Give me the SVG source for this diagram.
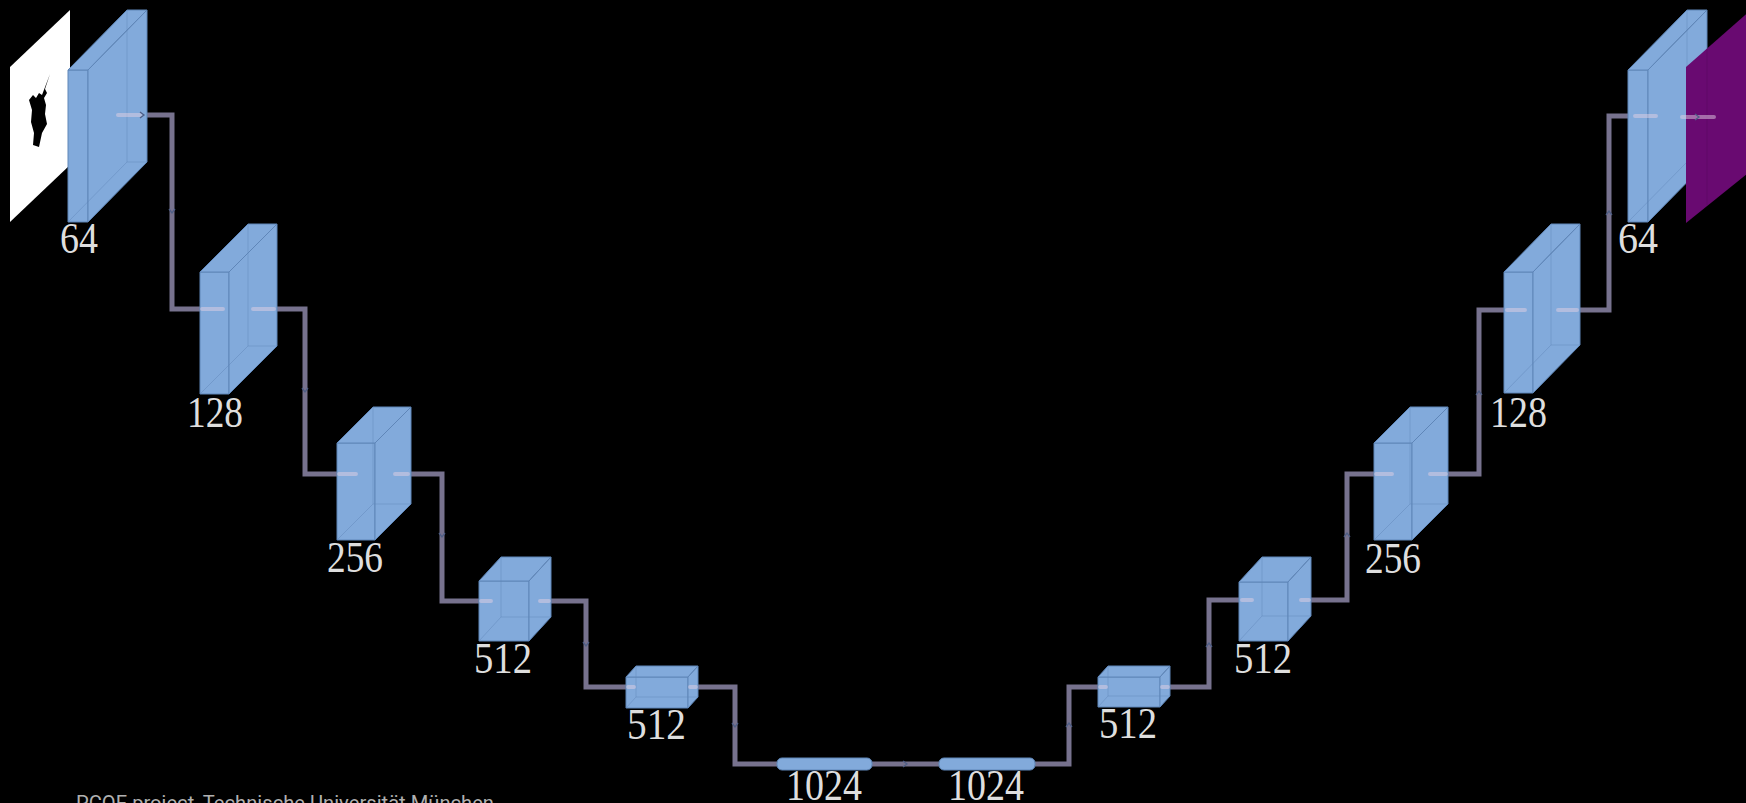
<svg xmlns="http://www.w3.org/2000/svg" width="1746" height="803" viewBox="0 0 1746 803">
  <style>
    .face { fill: #82aadb; stroke: #5f86b8; stroke-width: 1; stroke-linejoin: round; }
    .hid { fill: none; stroke: #5f86b8; stroke-width: 1; opacity: 0.45; }
    .wire { fill: none; stroke: #77728e; stroke-width: 5; stroke-linejoin: miter; }
    .pass { fill: none; stroke: #e2d0e4; stroke-width: 4; stroke-linecap: round; opacity: 0.5; }
    .tick { fill: none; stroke: #4f5f86; stroke-width: 1.3; }
    .lbl { font-family: "Liberation Serif", "DejaVu Serif", serif; font-size: 44px; fill: #dedede; }
    .note { font-family: Roboto, "Liberation Sans", sans-serif; font-size: 20px; fill: #b0b0b0; }
  </style>

  <rect x="0" y="0" width="1746" height="803" fill="#000"/>

  <!-- input image -->
  <g id="input">
    <polygon points="10,67 70,10 70,165 10,222" fill="#ffffff"/>
    <path d="M50,74 L45,89 L47,93 L44,98 L46,105 L45,114 L47,124 L42,133 L39,147 L33,145 L34,133 L31,122 L32,110 L29,100 L33,95 L36,98 L39,93 L42,95 Z" fill="#000"/>
  </g>

  <!-- connectors -->
  <g id="connectors">
    <path class="wire" d="M147,115 H172 V309 H200"/>
    <path class="wire" d="M277,309 H305 V474 H337"/>
    <path class="wire" d="M411,474 H442 V601 H479"/>
    <path class="wire" d="M551,601 H586 V687 H626"/>
    <path class="wire" d="M698,687 H735 V764 H777"/>
    <path class="wire" d="M872,764 H939"/>
    <path class="wire" d="M1035,764 H1069 V687 H1098"/>
    <path class="wire" d="M1170,687 H1209 V600 H1239"/>
    <path class="wire" d="M1311,600 H1347 V474 H1374"/>
    <path class="wire" d="M1448,474 H1479 V310 H1504"/>
    <path class="wire" d="M1580,310 H1609 V116 H1628"/>
    <!-- direction ticks -->
    <path class="tick" d="M169,209 L172,213 L175,209 M302,388 L305,392 L308,388 M439,533 L442,537 L445,533 M583,642 L586,646 L589,642 M732,723 L735,727 L738,723"/>
    <path class="tick" d="M903,761 L907,764 L903,767"/>
    <path class="tick" d="M1066,727 L1069,723 L1072,727 M1206,647 L1209,643 L1212,647 M1344,537 L1347,533 L1350,537 M1476,395 L1479,391 L1482,395 M1606,215 L1609,211 L1612,215"/>
  </g>

  <!-- encoder -->
  <g id="enc64">
    <rect class="face" x="68" y="70" width="20" height="152"/>
    <polygon class="face" points="68,70 88,70 147,10 127,10"/>
    <polygon class="face" points="88,70 147,10 147,162 88,222"/>
    <path class="hid" d="M127,10 V162 H147 M68,222 L127,162"/>
    <text class="lbl" x="60" y="253" textLength="38" lengthAdjust="spacingAndGlyphs">64</text>
  </g>
  <g id="enc128">
    <rect class="face" x="200" y="272" width="29" height="122"/>
    <polygon class="face" points="200,272 229,272 277,224 248,224"/>
    <polygon class="face" points="229,272 277,224 277,346 229,394"/>
    <path class="hid" d="M248,224 V346 H277 M200,394 L248,346"/>
    <text class="lbl" x="187" y="427" textLength="56" lengthAdjust="spacingAndGlyphs">128</text>
  </g>
  <g id="enc256">
    <rect class="face" x="337" y="443" width="38" height="97"/>
    <polygon class="face" points="337,443 375,443 411,407 373,407"/>
    <polygon class="face" points="375,443 411,407 411,504 375,540"/>
    <path class="hid" d="M373,407 V504 H411 M337,540 L373,504"/>
    <text class="lbl" x="327" y="572" textLength="56" lengthAdjust="spacingAndGlyphs">256</text>
  </g>
  <g id="enc512a">
    <rect class="face" x="479" y="581" width="50" height="60"/>
    <polygon class="face" points="479,581 529,581 551,557 501,557"/>
    <polygon class="face" points="529,581 551,557 551,617 529,641"/>
    <path class="hid" d="M501,557 V617 H551 M479,641 L501,617"/>
    <text class="lbl" x="474" y="673" textLength="58" lengthAdjust="spacingAndGlyphs">512</text>
  </g>
  <g id="enc512b">
    <rect class="face" x="626" y="677" width="62" height="31"/>
    <polygon class="face" points="626,677 688,677 698,666 636,666"/>
    <polygon class="face" points="688,677 698,666 698,697 688,708"/>
    <path class="hid" d="M636,666 V697 H698 M626,708 L636,697"/>
    <text class="lbl" x="627" y="739" textLength="59" lengthAdjust="spacingAndGlyphs">512</text>
  </g>

  <!-- bottleneck -->
  <g id="bott1">
    <rect class="face" x="777" y="758" width="95" height="12" rx="5"/>
    <text class="lbl" x="786" y="800" textLength="76" lengthAdjust="spacingAndGlyphs">1024</text>
  </g>
  <g id="bott2">
    <rect class="face" x="939" y="758" width="96" height="12" rx="5"/>
    <text class="lbl" x="948" y="800" textLength="76" lengthAdjust="spacingAndGlyphs">1024</text>
  </g>

  <!-- decoder -->
  <g id="dec512b">
    <rect class="face" x="1098" y="677" width="62" height="30"/>
    <polygon class="face" points="1098,677 1160,677 1170,666 1108,666"/>
    <polygon class="face" points="1160,677 1170,666 1170,696 1160,707"/>
    <path class="hid" d="M1108,666 V696 H1170 M1098,707 L1108,696"/>
    <text class="lbl" x="1099" y="738" textLength="58" lengthAdjust="spacingAndGlyphs">512</text>
  </g>
  <g id="dec512a">
    <rect class="face" x="1239" y="582" width="49" height="59"/>
    <polygon class="face" points="1239,582 1288,582 1311,557 1262,557"/>
    <polygon class="face" points="1288,582 1311,557 1311,616 1288,641"/>
    <path class="hid" d="M1262,557 V616 H1311 M1239,641 L1262,616"/>
    <text class="lbl" x="1234" y="673" textLength="58" lengthAdjust="spacingAndGlyphs">512</text>
  </g>
  <g id="dec256">
    <rect class="face" x="1374" y="443" width="38" height="97"/>
    <polygon class="face" points="1374,443 1412,443 1448,407 1410,407"/>
    <polygon class="face" points="1412,443 1448,407 1448,504 1412,540"/>
    <path class="hid" d="M1410,407 V504 H1448 M1374,540 L1410,504"/>
    <text class="lbl" x="1365" y="573" textLength="56" lengthAdjust="spacingAndGlyphs">256</text>
  </g>
  <g id="dec128">
    <rect class="face" x="1504" y="272" width="29" height="121"/>
    <polygon class="face" points="1504,272 1533,272 1580,224 1551,224"/>
    <polygon class="face" points="1533,272 1580,224 1580,345 1533,393"/>
    <path class="hid" d="M1551,224 V345 H1580 M1504,393 L1551,345"/>
    <text class="lbl" x="1490" y="427" textLength="57" lengthAdjust="spacingAndGlyphs">128</text>
  </g>
  <g id="dec64">
    <rect class="face" x="1628" y="70" width="20" height="152"/>
    <polygon class="face" points="1628,70 1648,70 1707,10 1687,10"/>
    <polygon class="face" points="1648,70 1707,10 1707,162 1648,222"/>
    <path class="hid" d="M1687,10 V162 H1707 M1628,222 L1687,162"/>
    <text class="lbl" x="1618" y="253" textLength="40" lengthAdjust="spacingAndGlyphs">64</text>
  </g>

  <!-- output map -->
  <g id="output">
    <polygon points="1686,67 1752,9 1752,170 1686,223" fill="#690a71"/>
    <line x1="1707" y1="49" x2="1707" y2="205" stroke="#5a0862" stroke-width="1" opacity="0.6"/>
  </g>

  <!-- pass-through segments seen inside the blocks -->
  <g id="passes">
    <path class="pass" d="M118,115 H140"/>
    <path class="pass" d="M202,309 H223 M253,309 H274"/>
    <path class="pass" d="M339,474 H356 M395,474 H408"/>
    <path class="pass" d="M481,601 H491 M540,601 H549"/>
    <path class="pass" d="M628,687 H634 M690,687 H696"/>
    <path class="pass" d="M1100,687 H1106 M1162,687 H1168"/>
    <path class="pass" d="M1242,600 H1252 M1301,600 H1309"/>
    <path class="pass" d="M1376,474 H1392 M1430,474 H1446"/>
    <path class="pass" d="M1507,310 H1525 M1558,310 H1577"/>
    <path class="pass" d="M1635,116 H1656 M1682,117 H1714"/>
    <path class="tick" d="M140,112 L144,115 L140,118 M1695,114 L1699,117 L1695,120"/>
  </g>

  <text class="note" x="76" y="810" textLength="418" lengthAdjust="spacingAndGlyphs">PCOE project, Technische Universität München</text>
</svg>
